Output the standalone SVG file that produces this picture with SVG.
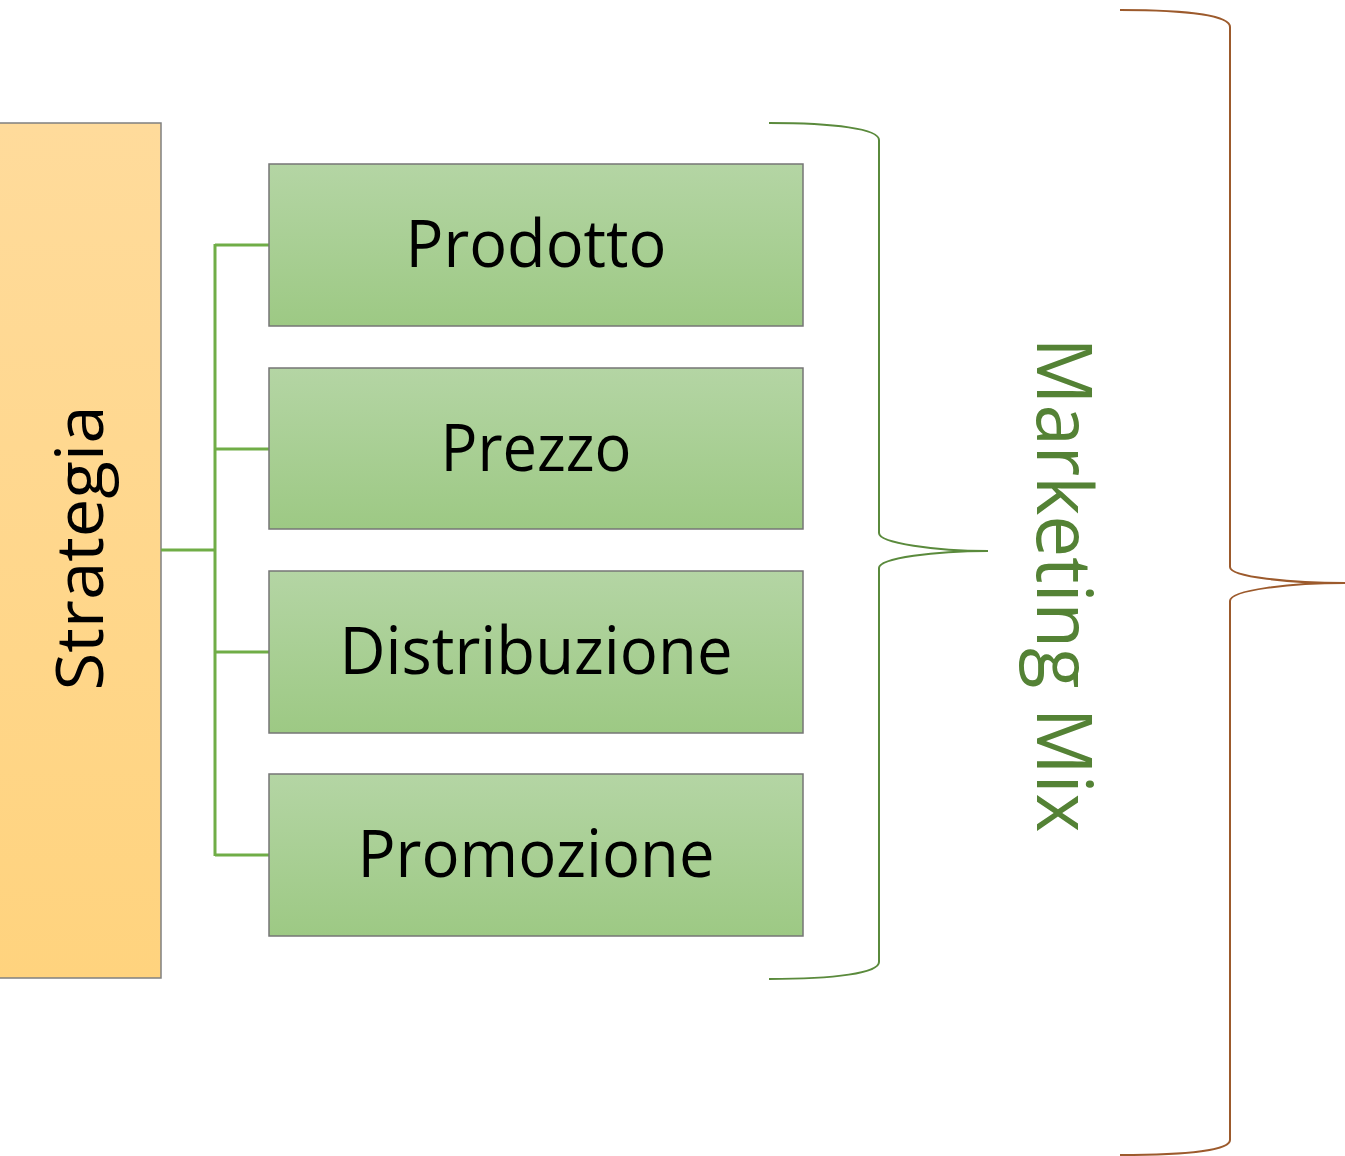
<svg xmlns="http://www.w3.org/2000/svg" width="1345" height="1156" viewBox="0 0 1345 1156">
  <defs>
    <linearGradient id="gOrange" x1="0" y1="0" x2="0" y2="1">
      <stop offset="0" stop-color="#FFDB9B"/>
      <stop offset="1" stop-color="#FFD37E"/>
    </linearGradient>
    <linearGradient id="gGreen" x1="0" y1="0" x2="0" y2="1">
      <stop offset="0" stop-color="#B4D5A4"/>
      <stop offset="1" stop-color="#9DC984"/>
    </linearGradient>
    <style>
      .box { fill: url(#gGreen); stroke: #767676; stroke-width: 1.5; }
      .label { font-family: "Open Sans", "Liberation Sans", sans-serif; font-size: 66px; fill: #000; text-anchor: middle; }
      .link { fill: none; stroke: #70AD47; stroke-width: 3; }
      .brace { fill: none; stroke-width: 2; }
    </style>
  </defs>
  <rect width="1345" height="1156" fill="#fff"/>

  <!-- Strategy column -->
  <g id="strategia">
    <rect x="-2" y="123" width="163" height="855" fill="url(#gOrange)" stroke="#808080" stroke-width="1.5"/>
    <text class="label" transform="translate(103,548) rotate(-90)" x="0" y="0" font-size="68" textLength="285" lengthAdjust="spacingAndGlyphs">Strategia</text>
  </g>

  <!-- Connectors -->
  <g id="connectors">
    <path class="link" d="M161,550 H215 M215,244 V856 M215,245 H269 M215,449 H269 M215,652 H269 M215,855 H269"/>
  </g>

  <g id="prodotto">
    <rect class="box" x="269" y="164" width="534" height="162"/>
    <text class="label" x="536" y="267" textLength="261" lengthAdjust="spacingAndGlyphs">Prodotto</text>
  </g>
  <g id="prezzo">
    <rect class="box" x="269" y="368" width="534" height="161"/>
    <text class="label" x="536" y="471" textLength="191" lengthAdjust="spacingAndGlyphs">Prezzo</text>
  </g>
  <g id="distribuzione">
    <rect class="box" x="269" y="571" width="534" height="162"/>
    <text class="label" x="536" y="674" textLength="393" lengthAdjust="spacingAndGlyphs">Distribuzione</text>
  </g>
  <g id="promozione">
    <rect class="box" x="269" y="774" width="534" height="162"/>
    <text class="label" x="536" y="877" textLength="357" lengthAdjust="spacingAndGlyphs">Promozione</text>
  </g>

  <!-- Marketing Mix brace and label -->
  <g id="marketing-mix">
    <path class="brace" stroke="#5A8A3C" d="M769,123 C835,123 879,129 879,140 L879,533 C879,543 935,551 988,551 C935,551 879,558 879,568 L879,962 C879,973 835,979 769,979"/>
    <text transform="translate(1037,585) rotate(90)" x="0" y="0" font-family="'Open Sans', 'Liberation Sans', sans-serif" font-size="76" fill="#548235" text-anchor="middle" textLength="495" lengthAdjust="spacingAndGlyphs">Marketing Mix</text>
  </g>

  <!-- Outer brace -->
  <g id="outer-brace">
    <path class="brace" stroke="#9C5A2C" d="M1120,10 C1190,10 1230,16 1230,27 L1230,567 C1230,577 1290,583 1345,583 M1345,583 C1290,583 1230,590 1230,601 L1230,1140 C1230,1150 1190,1155 1120,1155"/>
  </g>
</svg>
